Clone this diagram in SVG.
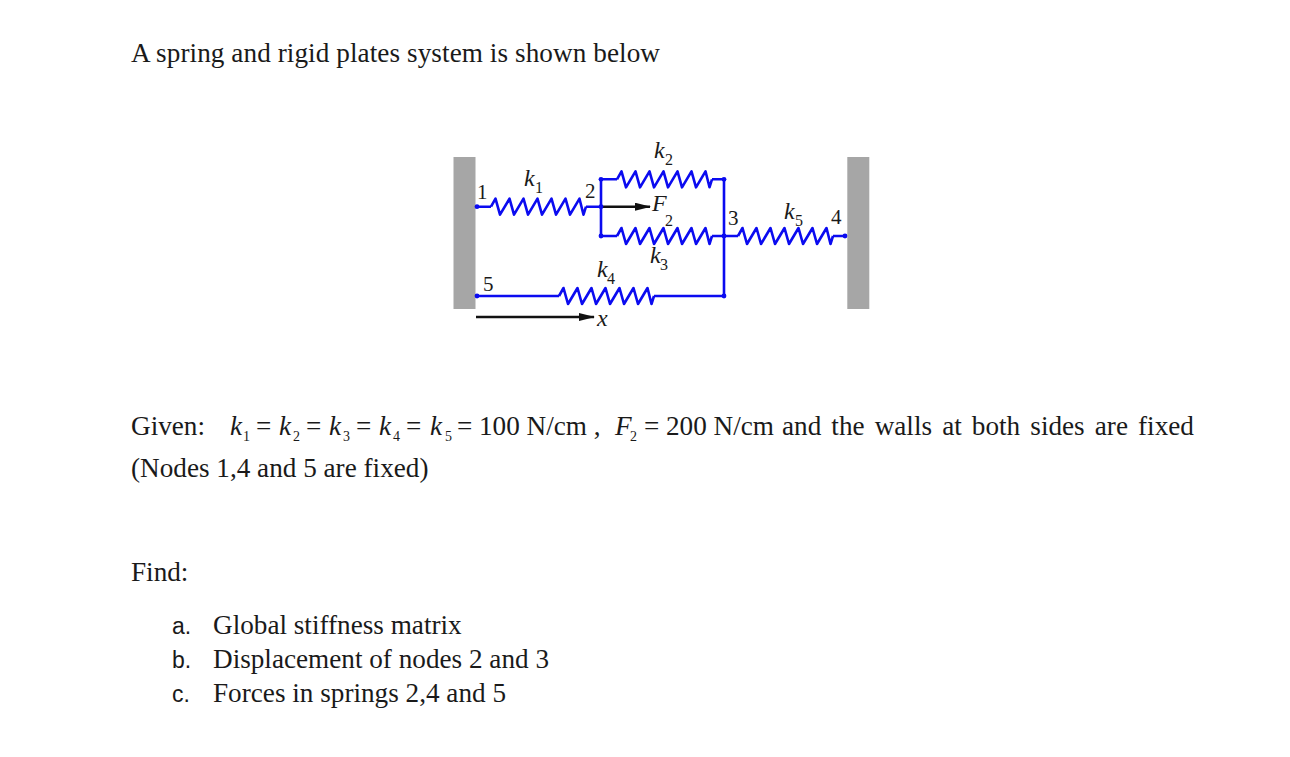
<svg xmlns="http://www.w3.org/2000/svg" width="1290" height="757" viewBox="0 0 1290 757">
<style>
text{font-family:"Liberation Serif","Times New Roman",serif;fill:#1a1a1a}
.body{font-size:27.200px}
.sub{font-size:14px}
.it{font-style:italic}
.sans{font-family:"Liberation Sans",Arial,sans-serif;font-size:23px}
.lbl{font-size:21px}
.klbl{font-size:24px;font-style:italic}
.ksub{font-size:16px}
.wall{fill:#a6a6a6}
.wire{fill:none;stroke:#0b0bf0;stroke-width:2.600;stroke-linejoin:round}
.dot{fill:#0b0bf0}
.arrow{fill:none;stroke:#111;stroke-width:2.400}
.head{fill:#111}
</style>
<defs>
<path id="coil" class="wire" d="M0 0L4.500 -8L9 8L18.500 -8L23 8L32.500 -8L37 8L46.500 -8L51 8L60.500 -8L65 8L74.500 -8L79 8L88.500 -8L92.500 8L95 0"/>
<marker id="ah" markerWidth="16" markerHeight="8" refX="15" refY="4" orient="auto" markerUnits="userSpaceOnUse"><path class="head" d="M0 0L16 4L0 8Z"/></marker>
</defs>
<rect width="1290" height="757" fill="#fff"/>
<g id="title"><text class="body" x="131" y="62" textLength="529" lengthAdjust="spacing">A spring and rigid plates system is shown below</text></g>
<g id="wall-left"><rect class="wall" x="453.500" y="157" width="22" height="152"/></g>
<g id="wall-right"><rect class="wall" x="847.300" y="157" width="22" height="152"/></g>
<g id="connectors">
<path class="wire" d="M476 206.700H491M586 206.700H601M601 179.300V236M601 179.300H617M601 236H617M712 179.300H724M712 236H738M724 179.300V296M476 296H559M654 296H724M833 236H845"/>
<use href="#coil" x="491" y="206.700"/>
<use href="#coil" x="617" y="179.300"/>
<use href="#coil" x="617" y="236"/>
<use href="#coil" x="559" y="296"/>
<use href="#coil" x="738" y="236"/>
<path class="arrow" d="M601 206.700H650" marker-end="url(#ah)"/>
<path class="arrow" d="M476 317H594" marker-end="url(#ah)"/>
</g>
<g id="node-1"><circle class="dot" cx="477" cy="206.700" r="2.400"/><text class="lbl" x="477" y="199">1</text></g>
<g id="node-2"><circle class="dot" cx="601" cy="206.700" r="2.400"/><text class="lbl" x="585" y="198">2</text></g>
<g id="node-3"><circle class="dot" cx="724" cy="236" r="2.400"/><text class="lbl" x="728" y="225">3</text></g>
<g id="node-4"><circle class="dot" cx="845" cy="236" r="2.400"/><text class="lbl" x="831" y="224">4</text></g>
<g id="node-5"><circle class="dot" cx="477" cy="296" r="2.400"/><text class="lbl" x="483" y="291">5</text></g>
<g id="junctions"><circle class="dot" cx="601" cy="179.300" r="2.400"/><circle class="dot" cx="601" cy="236" r="2.400"/><circle class="dot" cx="724" cy="179.300" r="2.400"/><circle class="dot" cx="724" cy="296" r="2.400"/></g>
<g id="spring-labels">
<text class="klbl" x="524" y="186">k</text><text class="ksub" x="535" y="193">1</text>
<text class="klbl" x="654" y="158">k</text><text class="ksub" x="665" y="165">2</text>
<text class="klbl" x="650" y="263">k</text><text class="ksub" x="660" y="270">3</text>
<text class="klbl" x="597" y="277">k</text><text class="ksub" x="607" y="284">4</text>
<text class="klbl" x="784" y="219">k</text><text class="ksub" x="795" y="226">5</text>
<text class="klbl" x="652" y="211">F</text><text class="ksub" x="665" y="226">2</text>
<text class="klbl" x="597" y="326">x</text>
</g>
<g id="given">
<text class="body" x="131" y="435">Given:</text>
<text class="body it" x="230" y="435">k</text><text class="sub" x="243" y="441">1</text><text class="body" x="256" y="435">=</text>
<text class="body it" x="279" y="435">k</text><text class="sub" x="293" y="441">2</text><text class="body" x="306" y="435">=</text>
<text class="body it" x="329" y="435">k</text><text class="sub" x="343" y="441">3</text><text class="body" x="356" y="435">=</text>
<text class="body it" x="379" y="435">k</text><text class="sub" x="393" y="441">4</text><text class="body" x="406" y="435">=</text>
<text class="body it" x="430" y="435">k</text><text class="sub" x="445" y="441">5</text><text class="body" x="457" y="435">=</text>
<text class="body" x="479" y="435">100 N/cm ,</text>
<text class="body it" x="615" y="435">F</text><text class="sub" x="630" y="441">2</text><text class="body" x="644" y="435">=</text>
<text class="body" x="666" y="435">200 N/cm</text>
<text class="body" x="782" y="435" word-spacing="3.300">and the walls at both sides are fixed</text>
<text class="body" x="131" y="477">(Nodes 1,4 and 5 are fixed)</text>
</g>
<g id="find">
<text class="body" x="131" y="581">Find:</text>
<text class="sans" x="172" y="634">a.</text><text class="body" x="213" y="634">Global stiffness matrix</text>
<text class="sans" x="172" y="668">b.</text><text class="body" x="213" y="668">Displacement of nodes 2 and 3</text>
<text class="sans" x="172" y="702">c.</text><text class="body" x="213" y="702">Forces in springs 2,4 and 5</text>
</g>
</svg>
